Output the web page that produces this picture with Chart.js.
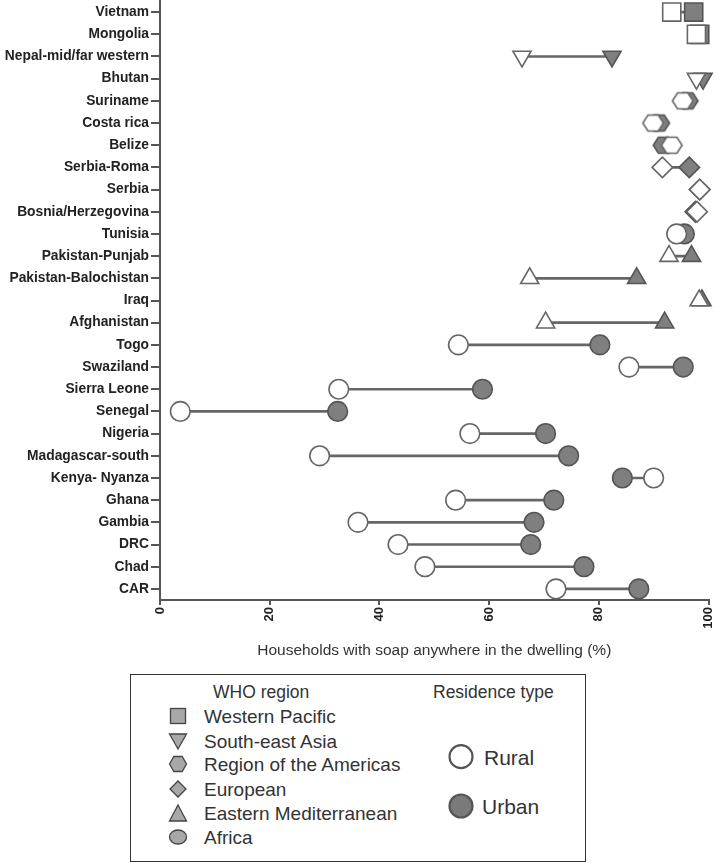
<!DOCTYPE html>
<html><head><meta charset="utf-8">
<script src="https://cdn.jsdelivr.net/npm/chart.js@4"></script>
<style>
body{margin:0;background:#fff;}
#wrap{position:relative;width:717px;height:863px;font-family:"Liberation Sans",Arial,sans-serif;color:#333;overflow:hidden;}
#cvbox{position:absolute;left:0;top:0;width:717px;height:665px;}
#legend{position:absolute;left:130px;top:674px;width:456px;height:188px;border:1.6px solid #333;box-sizing:border-box;}
#legend svg{position:absolute;left:0;top:0;}
.t{position:absolute;white-space:nowrap;line-height:1;transform:translateY(-50%);color:#333;}
.h{font-size:17.5px;}
.i{font-size:19px;}
.r{font-size:21px;}
</style></head>
<body>
<div id="wrap">
  <div id="cvbox"><canvas id="c"></canvas></div>
  <div id="legend">
    <svg width="456" height="188">
      <rect x="39.5" y="33.5" width="15" height="15" fill="#a8a8a8" stroke="#444" stroke-width="1.3"/>
      <polygon points="38.5,59 55.5,59 47,74" fill="#a8a8a8" stroke="#444" stroke-width="1.3"/>
      <polygon points="38.5,89 42.8,81.5 51.2,81.5 55.5,89 51.2,96.5 42.8,96.5" fill="#a8a8a8" stroke="#444" stroke-width="1.3"/>
      <polygon points="47,106 55,114 47,122 39,114" fill="#a8a8a8" stroke="#444" stroke-width="1.3"/>
      <polygon points="47,130 55.5,146 38.5,146" fill="#a8a8a8" stroke="#444" stroke-width="1.3"/>
      <ellipse cx="47" cy="162" rx="8.5" ry="7" fill="#a8a8a8" stroke="#444" stroke-width="1.3"/>
      <circle cx="330" cy="81.7" r="11.5" fill="#fff" stroke="#555" stroke-width="2.2"/>
      <circle cx="330" cy="131" r="11.5" fill="#7a7a7a" stroke="#555" stroke-width="2.2"/>
    </svg>
    <div class="t h" style="left:82px;top:18px;">WHO region</div>
    <div class="t h" style="left:302px;top:18px;">Residence type</div>
    <div class="t i" style="left:73px;top:41px;">Western Pacific</div>
    <div class="t i" style="left:73px;top:66px;">South-east Asia</div>
    <div class="t i" style="left:73px;top:89px;">Region of the Americas</div>
    <div class="t i" style="left:73px;top:114px;">European</div>
    <div class="t i" style="left:73px;top:138px;">Eastern Mediterranean</div>
    <div class="t i" style="left:73px;top:162px;">Africa</div>
    <div class="t r" style="left:353px;top:82px;">Rural</div>
    <div class="t r" style="left:351px;top:131px;">Urban</div>
  </div>
</div>
<script>
const categories = ['Vietnam','Mongolia','Nepal-mid/far western','Bhutan','Suriname','Costa rica','Belize',
  'Serbia-Roma','Serbia','Bosnia/Herzegovina','Tunisia','Pakistan-Punjab','Pakistan-Balochistan','Iraq',
  'Afghanistan','Togo','Swaziland','Sierra Leone','Senegal','Nigeria','Madagascar-south','Kenya- Nyanza',
  'Ghana','Gambia','DRC','Chad','CAR'];
const markerShapes = ['square','square','triangleDown','triangleDown','hexagon','hexagon','hexagon',
  'diamond','diamond','diamond','circle','triangle','triangle','triangle',
  'triangle','circle','circle','circle','circle','circle','circle','circle',
  'circle','circle','circle','circle','circle'];
const rural = [93.3,97.8,66.0,97.8,95.3,89.9,93.3,91.6,98.4,97.9,94.2,92.8,67.4,98.3,70.3,54.4,85.5,32.6,3.7,56.5,29.1,90.0,53.9,36.1,43.4,48.3,72.2];
const urban = [97.3,98.4,82.4,99.0,96.2,91.0,91.8,96.5,98.4,97.6,95.6,96.9,86.9,98.8,92.0,80.2,95.4,58.8,32.4,70.3,74.5,84.3,71.8,68.2,67.6,77.3,87.3];
const xTicks = [0,20,40,60,80,100];
const axisTitle = 'Households with soap anywhere in the dwelling (%)';

const RURAL_FILL = '#ffffff', RURAL_STROKE = '#666666';
const URBAN_FILL = '#7f7f7f', URBAN_STROKE = '#555555';

function hexImg(fill, stroke){
  const c = document.createElement('canvas');
  c.width = 25; c.height = 25;
  const g = c.getContext('2d');
  g.beginPath();
  for (let k=0;k<6;k++){
    const a = k*Math.PI/3;
    const x = 12.5 + 10.3*Math.cos(a), y = 12.5 + 9.2*Math.sin(a);
    if(k===0) g.moveTo(x,y); else g.lineTo(x,y);
  }
  g.closePath();
  g.fillStyle = fill; g.fill();
  g.lineWidth = 1.6; g.strokeStyle = stroke; g.stroke();
  return c;
}
const hexRural = hexImg(RURAL_FILL, RURAL_STROKE);
const hexUrban = hexImg(URBAN_FILL, URBAN_STROKE);

function styleOf(shape, isUrban){
  switch(shape){
    case 'square': return 'rect';
    case 'triangleDown': return 'triangle';
    case 'triangle': return 'triangle';
    case 'diamond': return 'rectRot';
    case 'hexagon': return isUrban ? hexUrban : hexRural;
    default: return 'circle';
  }
}
function radiusOf(shape){
  switch(shape){
    case 'square': return 12.8;
    case 'triangleDown': case 'triangle': return 10.5;
    case 'diamond': return 10.3;
    case 'hexagon': return 10;
    default: return 9.8;
  }
}
const rotations = markerShapes.map(s => s==='triangleDown' ? 180 : 0);
const radii = markerShapes.map(radiusOf);

const ctx = document.getElementById('c');
new Chart(ctx, {
  type: 'bar',
  data: {
    labels: categories,
    datasets: [
      {
        type: 'line', label: 'Rural', order: 1, showLine: false, clip: false,
        data: categories.map((c,i)=>({x: rural[i], y: c})),
        pointStyle: markerShapes.map(s=>styleOf(s,false)),
        pointRadius: radii, pointRotation: rotations,
        pointBackgroundColor: RURAL_FILL, pointBorderColor: RURAL_STROKE, pointBorderWidth: 1.6,
        pointHoverRadius: radii
      },
      {
        type: 'line', label: 'Urban', order: 2, showLine: false, clip: false,
        data: categories.map((c,i)=>({x: urban[i], y: c})),
        pointStyle: markerShapes.map(s=>styleOf(s,true)),
        pointRadius: radii, pointRotation: rotations,
        pointBackgroundColor: URBAN_FILL, pointBorderColor: URBAN_STROKE, pointBorderWidth: 1.6,
        pointHoverRadius: radii
      },
      {
        type: 'bar', label: 'gap', order: 3,
        data: categories.map((c,i)=>[rural[i], urban[i]]),
        backgroundColor: '#666666', barThickness: 2, borderSkipped: false
      }
    ]
  },
  options: {
    indexAxis: 'y',
    responsive: true, maintainAspectRatio: false, animation: false,
    layout: { autoPadding: false, padding: { top: 1, right: 8.5, left: 0, bottom: 0 } },
    plugins: { legend: { display: false }, tooltip: { enabled: false } },
    scales: {
      x: {
        type: 'linear', min: 0, max: 100, position: 'bottom',
        afterBuildTicks: s => { s.ticks = xTicks.map(v=>({value:v})); },
        afterFit: s => { s.height = 65; s.paddingLeft = 0; s.paddingRight = 0; },
        grid: { display: true, drawOnChartArea: false, drawTicks: true, tickLength: 5, color: '#555', lineWidth: 2 },
        border: { display: true, color: '#555', width: 2 },
        ticks: { minRotation: 90, maxRotation: 90, padding: 2, color: '#222', font: { family: '"Liberation Sans", Arial', size: 13, weight: 'bold' } },
        title: { display: true, text: axisTitle, color: '#333', padding: { top: 4, bottom: 5 }, font: { family: '"Liberation Sans", Arial', size: 15.5 } }
      },
      y: {
        type: 'category', labels: categories, offset: true,
        afterFit: s => { s.width = 160; s.paddingTop = 0; s.paddingBottom = 0; },
        grid: { display: true, offset: false, drawOnChartArea: false, drawTicks: true, tickLength: 9, color: '#555', lineWidth: 2 },
        border: { display: true, color: '#555', width: 2 },
        ticks: { padding: 2, color: '#222', autoSkip: false, font: { family: '"Liberation Sans", Arial', size: 13.8, weight: 'bold' } }
      }
    }
  }
});
</script>
</body></html>
